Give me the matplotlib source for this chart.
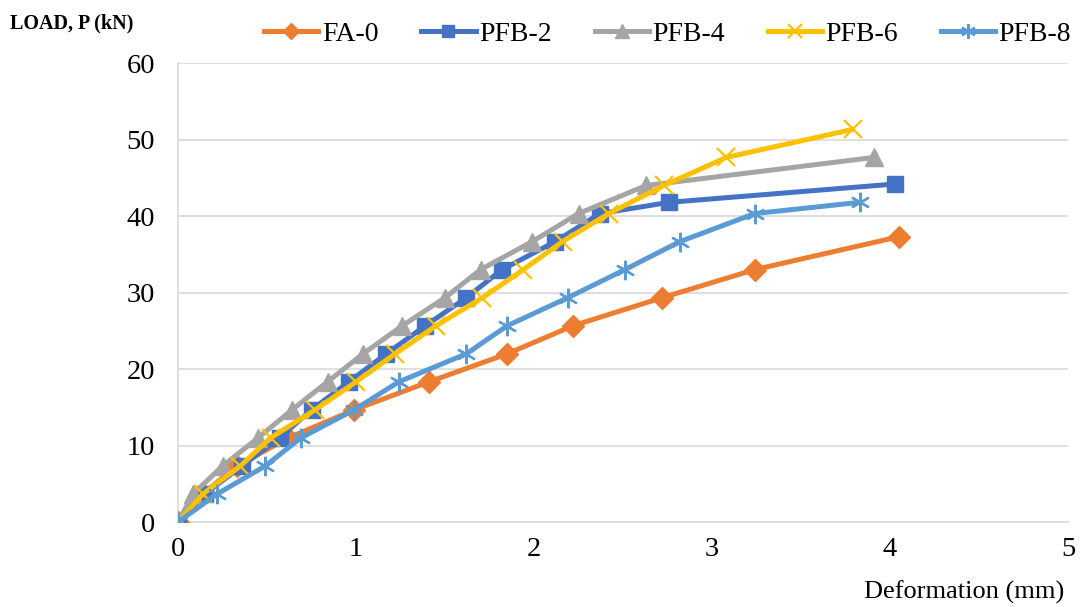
import matplotlib
matplotlib.use("Agg")
import matplotlib.pyplot as plt

# Load–deformation data (deformation in mm, load in kN)
fa0_x = [0, 0.14, 0.33, 0.62, 0.99, 1.41, 1.85, 2.22, 2.72, 3.24, 4.05]
fa0_y = [0, 3.67, 7.33, 11, 14.67, 18.33, 22, 25.67, 29.33, 33, 37.3]

pfb2_x = [0, 0.15, 0.36, 0.57, 0.75, 0.96, 1.17, 1.39, 1.62, 1.82, 2.12, 2.37, 2.76, 4.03]
pfb2_y = [0, 3.67, 7.33, 11, 14.67, 18.33, 22, 25.67, 29.33, 33, 36.67, 40.33, 41.8, 44.2]

pfb4_x = [0, 0.085, 0.25, 0.45, 0.64, 0.84, 1.04, 1.26, 1.50, 1.70, 1.99, 2.25, 2.63, 3.91]
pfb4_y = [0, 3.67, 7.33, 11, 14.67, 18.33, 22, 25.67, 29.33, 33, 36.67, 40.33, 44, 47.67]

pfb6_x = [0, 0.14, 0.35, 0.52, 0.77, 1.0, 1.22, 1.45, 1.71, 1.94, 2.16, 2.42, 2.73, 3.08, 3.79]
pfb6_y = [0, 3.67, 7.33, 11, 14.67, 18.33, 22, 25.67, 29.33, 33, 36.67, 40.33, 44, 47.67, 51.33]

pfb8_x = [0, 0.22, 0.49, 0.69, 0.99, 1.24, 1.62, 1.85, 2.19, 2.51, 2.82, 3.24, 3.83]
pfb8_y = [0, 3.67, 7.33, 11, 14.67, 18.33, 22, 25.67, 29.33, 33, 36.67, 40.33, 41.8]

series_names = ["FA-0", "PFB-2", "PFB-4", "PFB-6", "PFB-8"]
x_ticks = [0, 1, 2, 3, 4, 5]
y_ticks = [0, 10, 20, 30, 40, 50, 60]

plt.rcParams["font.family"] = ["Liberation Serif", "DejaVu Serif"]

fig = plt.figure(figsize=(10.89, 6.07), dpi=100)
ax = fig.add_axes([0.1635, 0.140, 0.8172, 0.756])

styles = [
    dict(color="#ED7D31", marker="D", markersize=11),
    dict(color="#4472C4", marker="s", markersize=12),
    dict(color="#A5A5A5", marker="^", markersize=13),
    dict(color="#FFC000", marker="x", markersize=13, markeredgewidth=1.6),
    dict(color="#5B9BD5", marker=(6, 2, 0), markersize=14, markeredgewidth=1.6),
]
data = [(fa0_x, fa0_y), (pfb2_x, pfb2_y), (pfb4_x, pfb4_y), (pfb6_x, pfb6_y), (pfb8_x, pfb8_y)]

handles = []
for (xs, ys), name, st in zip(data, series_names, styles):
    h, = ax.plot(xs, ys, linewidth=3.6, label=name, zorder=3, **st)
    handles.append(h)

ax.set_xlim(0, 5)
ax.set_ylim(0, 60)
ax.set_xticks(x_ticks)
ax.set_yticks(y_ticks)
ax.tick_params(axis="both", length=0, labelsize=20.5, colors="#000000")
ax.tick_params(axis="x", pad=11)
ax.tick_params(axis="y", pad=16.5)
ax.grid(axis="y", color="#D9D9D9", linewidth=1.2, zorder=0)
for side in ["top", "right"]:
    ax.spines[side].set_visible(False)
ax.spines["left"].set_color("#D9D9D9")
ax.spines["left"].set_linewidth(1.2)
ax.spines["bottom"].set_color("#D9D9D9")
ax.spines["bottom"].set_linewidth(1.2)
ax.set_axisbelow(True)

fig.text(0.009, 0.962, "LOAD, P (kN)", fontsize=14.5, fontweight="bold", ha="left", va="center")
fig.text(0.977, 0.025, "Deformation (mm)", fontsize=19, ha="right", va="center")

fig.legend(handles=handles, labels=series_names, loc="center", ncol=5,
           bbox_to_anchor=(0.613, 0.944), frameon=False, fontsize=20,
           handlelength=1.95, handletextpad=0.12, columnspacing=1.55, markerscale=0.75,
           borderpad=0.1, borderaxespad=0.1)

fig.savefig("out.png", dpi=100)
